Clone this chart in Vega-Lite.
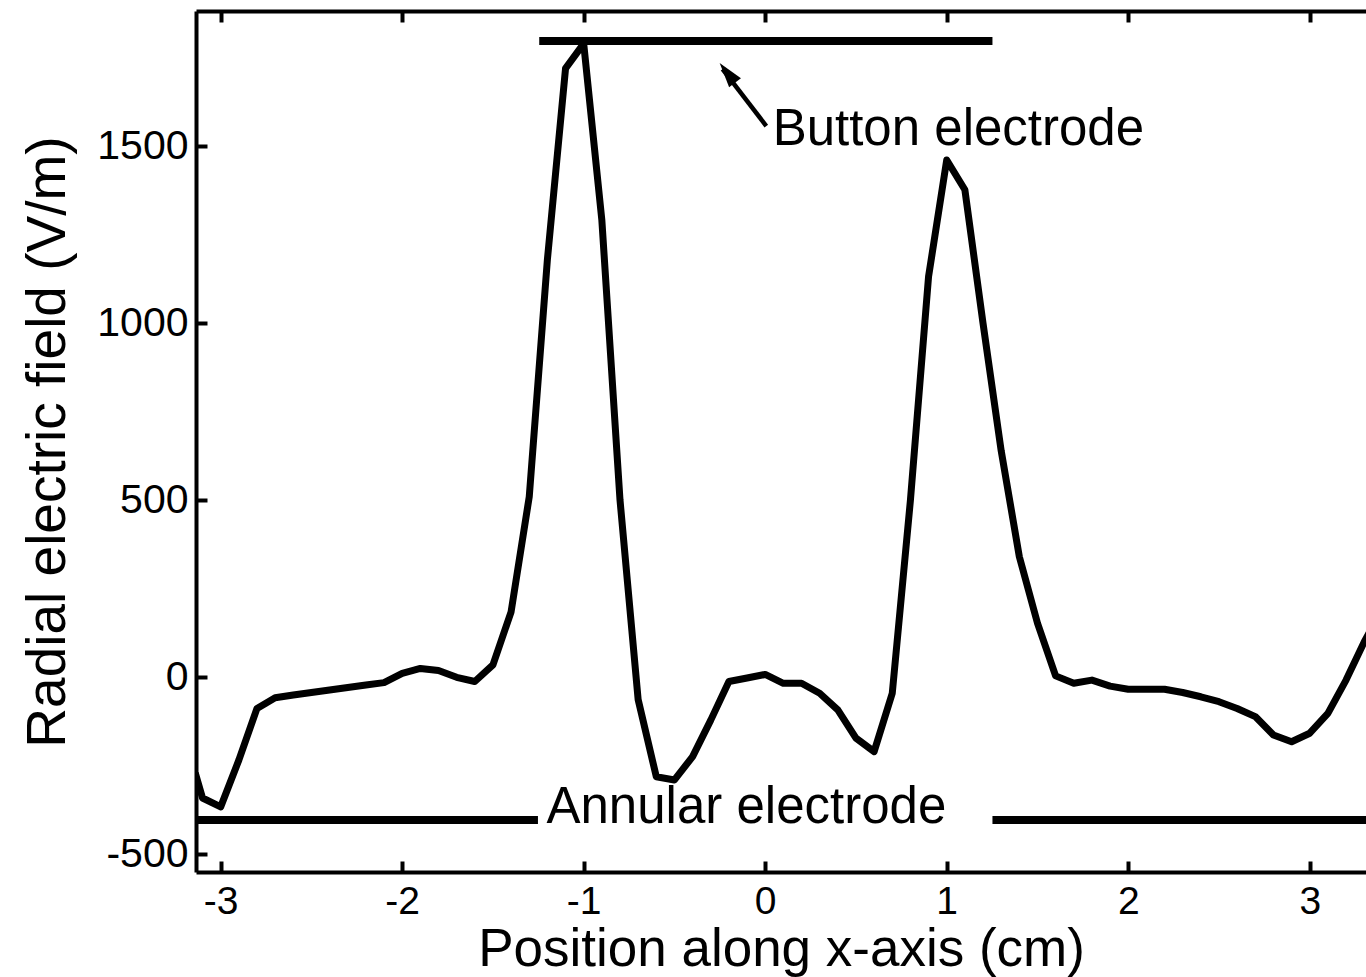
{
  "$schema": "https://vega.github.io/schema/vega-lite/v6.json",
  "width": 1170,
  "height": 861,
  "autosize": {"type": "none"},
  "padding": {"left": 196, "top": 11, "right": 0, "bottom": 105},
  "background": "white",
  "config": {
    "view": {"stroke": null},
    "font": "Liberation Sans",
    "axis": {
      "grid": false,
      "domainColor": "black",
      "domainWidth": 4,
      "tickColor": "black",
      "tickWidth": 4,
      "tickSize": -11,
      "labelColor": "black",
      "labelFont": "Liberation Sans",
      "labelFontSize": 41,
      "labelFlush": false,
      "labelOverlap": false,
      "titleColor": "black",
      "titleFont": "Liberation Sans",
      "titleFontSize": 55,
      "titleFontWeight": "normal"
    }
  },
  "datasets": {
    "curve": [
      {"x": -3.14, "y": -270}, {"x": -3.1, "y": -341}, {"x": -3.0, "y": -366}, {"x": -2.9, "y": -234},
      {"x": -2.8, "y": -88}, {"x": -2.7, "y": -58}, {"x": -2.6, "y": -50}, {"x": -2.5, "y": -43},
      {"x": -2.4, "y": -36}, {"x": -2.3, "y": -29}, {"x": -2.2, "y": -22}, {"x": -2.1, "y": -15},
      {"x": -2.0, "y": 11}, {"x": -1.9, "y": 25}, {"x": -1.8, "y": 19}, {"x": -1.7, "y": 0},
      {"x": -1.6, "y": -12}, {"x": -1.5, "y": 35}, {"x": -1.4, "y": 185}, {"x": -1.3, "y": 510},
      {"x": -1.2, "y": 1180}, {"x": -1.1, "y": 1720}, {"x": -1.0, "y": 1790}, {"x": -0.9, "y": 1291},
      {"x": -0.8, "y": 501}, {"x": -0.7, "y": -63}, {"x": -0.6, "y": -281}, {"x": -0.5, "y": -290},
      {"x": -0.4, "y": -224}, {"x": -0.3, "y": -121}, {"x": -0.2, "y": -12}, {"x": -0.1, "y": -2},
      {"x": 0.0, "y": 8}, {"x": 0.1, "y": -17}, {"x": 0.2, "y": -17}, {"x": 0.3, "y": -45},
      {"x": 0.4, "y": -92}, {"x": 0.5, "y": -172}, {"x": 0.6, "y": -210}, {"x": 0.7, "y": -45},
      {"x": 0.8, "y": 500}, {"x": 0.9, "y": 1132}, {"x": 1.0, "y": 1461}, {"x": 1.1, "y": 1377},
      {"x": 1.2, "y": 1000}, {"x": 1.3, "y": 640}, {"x": 1.4, "y": 341}, {"x": 1.5, "y": 153},
      {"x": 1.6, "y": 4}, {"x": 1.7, "y": -17}, {"x": 1.8, "y": -8}, {"x": 1.9, "y": -25},
      {"x": 2.0, "y": -34}, {"x": 2.1, "y": -34}, {"x": 2.2, "y": -34}, {"x": 2.3, "y": -43},
      {"x": 2.4, "y": -55}, {"x": 2.5, "y": -69}, {"x": 2.6, "y": -88}, {"x": 2.7, "y": -111},
      {"x": 2.8, "y": -163}, {"x": 2.9, "y": -182}, {"x": 3.0, "y": -158}, {"x": 3.1, "y": -102},
      {"x": 3.2, "y": -8}, {"x": 3.3, "y": 100}, {"x": 3.4, "y": 195}
    ],
    "electrodes": [
      {"name": "Button", "x": -1.245, "x2": 1.252, "y": 1797},
      {"name": "Annular left", "x": -3.3, "x2": -1.252, "y": -403},
      {"name": "Annular right", "x": 1.252, "x2": 3.5, "y": -403}
    ],
    "labels": [
      {"x": 0.041, "y": 1504, "text": "Button electrode"},
      {"x": -1.205, "y": -412, "text": "Annular electrode"}
    ],
    "arrow": [
      {"x": 0.006, "y": 1557, "x2": -0.235, "y2": 1718}
    ],
    "arrowhead": [
      {"x": -0.251, "y": 1735}
    ]
  },
  "layer": [
    {
      "data": {"name": "curve"},
      "mark": {"type": "line", "color": "black", "strokeWidth": 7, "clip": true, "strokeJoin": "round"},
      "encoding": {
        "x": {
          "field": "x", "type": "quantitative",
          "scale": {"domain": [-3.136, 3.31], "nice": false, "zero": false},
          "axis": {
            "orient": "bottom",
            "values": [-3, -2, -1, 0, 1, 2, 3],
            "labelExpr": "'' + datum.value",
            "labelFontSize": 39,
            "labelPadding": 21,
            "title": "Position along x-axis (cm)",
            "titleFontSize": 53,
            "titlePadding": 2
          }
        },
        "y": {
          "field": "y", "type": "quantitative",
          "scale": {"domain": [-550, 1882], "nice": false, "zero": false},
          "axis": {
            "orient": "left",
            "values": [-500, 0, 500, 1000, 1500],
            "labelExpr": "'' + datum.value",
            "labelPadding": 19,
            "title": "Radial electric field (V/m)",
            "titlePadding": 20
          }
        }
      }
    },
    {
      "data": {"name": "electrodes"},
      "mark": {"type": "rule", "color": "black", "strokeWidth": 8, "strokeCap": "butt", "clip": true},
      "encoding": {
        "x": {
          "field": "x", "type": "quantitative",
          "axis": {
            "orient": "top",
            "values": [-3, -2, -1, 0, 1, 2, 3],
            "labels": false,
            "title": null
          }
        },
        "x2": {"field": "x2"},
        "y": {"field": "y", "type": "quantitative", "axis": null}
      }
    },
    {
      "data": {"name": "arrow"},
      "mark": {"type": "rule", "color": "black", "strokeWidth": 4.5},
      "encoding": {
        "x": {"field": "x", "type": "quantitative", "axis": null},
        "x2": {"field": "x2"},
        "y": {"field": "y", "type": "quantitative", "axis": null},
        "y2": {"field": "y2"}
      }
    },
    {
      "data": {"name": "arrowhead"},
      "mark": {"type": "point", "shape": "M0,0L0.6,2L-0.6,2Z", "size": 625, "angle": 322, "filled": true, "color": "black", "opacity": 1},
      "encoding": {
        "x": {"field": "x", "type": "quantitative", "axis": null},
        "y": {"field": "y", "type": "quantitative", "axis": null}
      }
    },
    {
      "data": {"name": "labels"},
      "mark": {"type": "text", "align": "left", "baseline": "alphabetic", "fontSize": 51, "font": "Liberation Sans", "color": "black"},
      "encoding": {
        "x": {"field": "x", "type": "quantitative", "axis": null},
        "y": {"field": "y", "type": "quantitative", "axis": null},
        "text": {"field": "text"}
      }
    }
  ],
  "resolve": {"axis": {"x": "independent", "y": "independent"}}
}
